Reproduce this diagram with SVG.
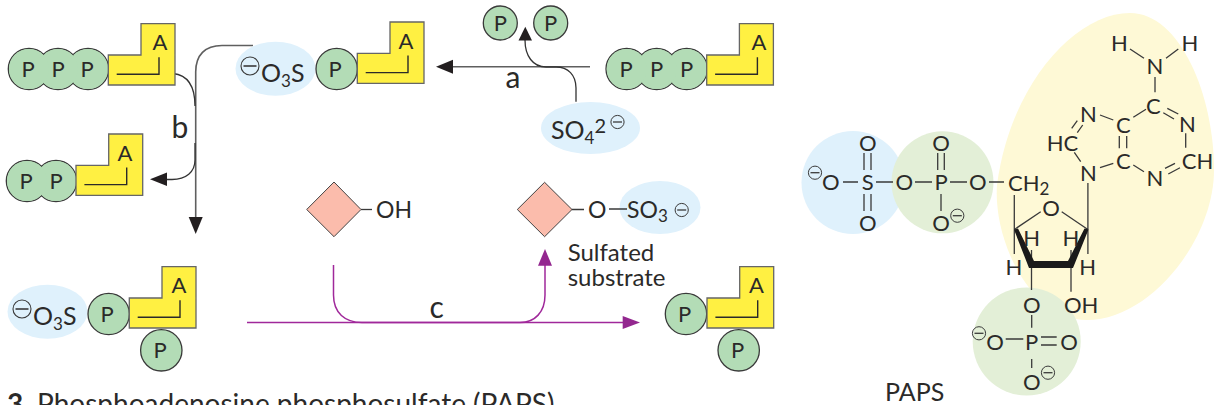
<svg xmlns="http://www.w3.org/2000/svg" width="1214" height="405" viewBox="0 0 1214 405">
<style>
text{font-family:"Lato","Open Sans","Liberation Sans",sans-serif;fill:#2b2a29;font-size:22px}
.m{text-anchor:middle}
.p{fill:#b3dcb6;stroke:#3a3a3a;stroke-width:1.3}
.pf{fill:#b3dcb6}
.b{fill:#dff1fc}
.g{fill:#e3efd7}
.bond{fill:none;stroke:#3a3a3a;stroke-width:1.3}
.line{fill:none;stroke:#5f5f5f;stroke-width:1.6}
.thin{fill:none;stroke:#333;stroke-width:1.3}
.mag{fill:none;stroke:#a0289a;stroke-width:1.5}
.head{fill:#231f20}
.mhead{fill:#93278f}
.dia{fill:#fbbcac;stroke:#444;stroke-width:1}
.sub{font-size:17px}
.big{font-size:25px}
.lbl{font-size:30px}
.cap{font-size:28px}
</style>
<defs>
<g id="amp">
<path d="M0 31.3H32.7V0H66.7V61.3H0Z" fill="#fff042" stroke="#666" stroke-width="1.3"/>
<path d="M8.4 50.6H50.7V33.5" fill="none" stroke="#2b2a29" stroke-width="1.4"/>
</g>
<g id="neg"><circle r="6.6" fill="none" stroke="#3a3a3a" stroke-width="1"/><path d="M-4.5 0H4.500" stroke="#3a3a3a" stroke-width="1.3"/></g>
<g id="negb"><circle r="9" fill="none" stroke="#3a3a3a" stroke-width="1.1"/><path d="M-6.500 0H6.500" stroke="#3a3a3a" stroke-width="1.6"/></g>
</defs>

<g id="adenosine-highlight">
<path d="M1130 13C1075 13 1010 85 997 185C993 240 1030 320 1087 320C1150 320 1214 240 1214 170C1214 95 1180 13 1130 13Z" fill="#fef9d6"/>
</g>

<g id="so4-blob"><ellipse class="b" cx="590.500" cy="128" rx="49.500" ry="26"/></g>

<g id="connectors">
<path class="line" d="M590 66.700H450"/>
<path class="head" d="M436 66.700L453 59.700V73.700Z"/>
<path class="thin" d="M576 101.700V88C576 75 568 67 556 67H546C533 67 525 56 525 40"/>
<path class="head" d="M525.300 26.700L518.500 40.500H532Z"/>
<path class="line" d="M253 45.500H222C205 45.500 195.700 55 195.700 72V220"/>
<path class="head" d="M195.700 234L188.700 217H202.700Z"/>
<path class="thin" d="M173 73.500C187 75 195 85 195 106M195 143V160C195 172 186 179.500 172 179.500H165"/>
<path class="head" d="M150 179.300L167 172.500V186Z"/>
<path class="mag" d="M247 322.500H625"/>
<path class="mhead" d="M640 322.500L622.700 316V329Z"/>
<path class="mag" d="M333.500 265V295C333.500 313 345 322.500 362 322.500H520C535 322.500 545 312 545 295V264"/>
<path class="mhead" d="M545 249L538 265.700H552Z"/>
</g>

<g id="atp-top-left">
<circle class="p" cx="88" cy="69" r="20.700"/><circle class="p" cx="58" cy="69" r="20.700"/><circle class="p" cx="29" cy="69" r="20.700"/>
<circle class="pf" cx="88" cy="69" r="20"/><circle class="pf" cx="58" cy="69" r="20"/><circle class="pf" cx="29" cy="69" r="20"/>
<use href="#amp" x="108.300" y="23.700"/>
<text class="m" x="28" y="77">P</text><text class="m" x="58" y="77">P</text><text class="m" x="87" y="77">P</text>
<text class="m" x="160" y="50">A</text>
</g>

<g id="adp-left">
<circle class="p" cx="56" cy="181" r="20.700"/><circle class="p" cx="27" cy="181" r="20.700"/>
<circle class="pf" cx="56" cy="181" r="20"/><circle class="pf" cx="27" cy="181" r="20"/>
<use href="#amp" x="76" y="134"/>
<text class="m" x="26" y="189">P</text><text class="m" x="56" y="189">P</text>
<text class="m" x="125" y="160.500">A</text>
</g>

<g id="aps-top">
<ellipse class="b" cx="275.500" cy="68.700" rx="40" ry="27"/>
<use href="#negb" x="250" y="66"/>
<text class="big" x="261" y="81.500">O<tspan class="sub" dy="5">3</tspan><tspan dy="-5">S</tspan></text>
<circle class="p" cx="336.700" cy="69" r="20.700"/>
<use href="#amp" x="357.300" y="22"/>
<text class="m" x="335" y="77">P</text><text class="m" x="406" y="49">A</text>
</g>

<g id="atp-top-right">
<circle class="p" cx="686.700" cy="69" r="20.700"/><circle class="p" cx="656.700" cy="69" r="20.700"/><circle class="p" cx="626.700" cy="69" r="20.700"/>
<circle class="pf" cx="686.700" cy="69" r="20"/><circle class="pf" cx="656.700" cy="69" r="20"/><circle class="pf" cx="626.700" cy="69" r="20"/>
<use href="#amp" x="706.700" y="23.700"/>
<text class="m" x="626" y="77">P</text><text class="m" x="656.700" y="77">P</text><text class="m" x="686.500" y="77">P</text>
<text class="m" x="759" y="50">A</text>
</g>

<g id="pp-released">
<circle class="p" cx="500.300" cy="23" r="17"/><circle class="p" cx="550.700" cy="23" r="17"/>
<text class="m" x="500.300" y="31">P</text><text class="m" x="550.700" y="31">P</text>
</g>

<g id="so4">
<text class="big" x="551" y="139">SO<tspan class="sub" dy="5">4</tspan><tspan class="sub" dy="-11" style="font-size:20px">2</tspan></text>
<use href="#neg" x="617.500" y="122"/>
</g>

<g id="labels">
<text class="m lbl" x="513" y="88">a</text>
<text class="m lbl" x="180" y="138">b</text>
<text class="m lbl" x="436.700" y="317.700">c</text>
<text style="font-size:24px" x="567.700" y="260.700">Sulfated<tspan x="567.700" dy="25.300">substrate</tspan></text>
<text class="cap" x="7" y="414" style="font-weight:700">3</text>
<text class="cap" x="37" y="414">Phosphoadenosine phosphosulfate (PAPS)</text>
<text class="big" x="885" y="401">PAPS</text>
</g>

<g id="substrate">
<path class="dia" d="M306.700 209.500L334 182L361 209.500L334 236.700Z"/>
<path class="bond" d="M361 209.500H372"/>
<text x="376" y="218" style="font-size:23px">OH</text>
</g>

<g id="sulfated-substrate">
<ellipse class="b" cx="660" cy="207.500" rx="40.500" ry="26.500"/>
<path class="dia" d="M517.300 209.500L544.600 182.300L572 209.500L544.600 236.700Z"/>
<path class="bond" d="M572 209.500H584M609 209H627"/>
<text x="588" y="218" style="font-size:23px">O</text>
<text x="627" y="218" style="font-size:23px">SO<tspan class="sub" dy="4">3</tspan></text>
<use href="#neg" x="681.700" y="210"/>
</g>

<g id="paps-bottom-left">
<ellipse class="b" cx="47.500" cy="311.700" rx="40" ry="27"/>
<use href="#negb" x="22" y="309"/>
<text class="big" x="33" y="325">O<tspan class="sub" dy="5">3</tspan><tspan dy="-5">S</tspan></text>
<circle class="p" cx="108.700" cy="314" r="20.700"/>
<use href="#amp" x="129.300" y="266.700"/>
<circle class="p" cx="161.300" cy="350.300" r="20.700"/>
<text class="m" x="107" y="322">P</text><text class="m" x="160" y="358">P</text><text class="m" x="179" y="293">A</text>
</g>

<g id="pap-bottom-right">
<circle class="p" cx="686" cy="314" r="20.700"/>
<use href="#amp" x="707" y="266.700"/>
<circle class="p" cx="738.700" cy="350.300" r="20.700"/>
<text class="m" x="684.500" y="322">P</text><text class="m" x="737.500" y="358">P</text><text class="m" x="756.500" y="293">A</text>
</g>

<g id="paps-structure">
<circle class="b" cx="853" cy="182.500" r="51.500"/>
<circle class="g" cx="942.500" cy="182.300" r="51"/>
<circle class="g" cx="1026.700" cy="341.500" r="54"/>
<path class="bond" d="M843 182H858M876 182H893M915 182H932M950 182H967M989 182H1004M864 153V170M871 153V170M864 194V211M871 194V211M937.700 153V170M944.300 153V170M941 194V211"/>
<use href="#neg" x="815" y="172.700"/><use href="#neg" x="957.300" y="215.700"/>
<text class="m" x="830.700" y="190">O</text><text class="m" x="867.700" y="190">S</text><text class="m" x="904.300" y="190">O</text><text class="m" x="941" y="190">P</text><text class="m" x="977.700" y="190">O</text>
<text class="m" x="867.700" y="150.500">O</text><text class="m" x="867.700" y="231">O</text><text class="m" x="941" y="150.500">O</text><text class="m" x="941" y="231">O</text>
<text x="1008" y="191">CH<tspan class="sub" dy="4">2</tspan></text>
<path class="bond" d="M1014.300 195V254M1087.900 183V254M1014.300 229.500L1040.700 211.700M1061.700 211.700L1087.900 229.500M1031.500 250V290M1071 250V291.700"/>
<path d="M1014 229.500L1018 228.500L1034 261H1068L1084.500 228.500L1088.500 229.500L1073 268H1029Z" fill="#1a1a1a"/>
<text class="m" x="1051" y="215.500">O</text>
<text class="m" x="1014" y="274.500">H</text><text class="m" x="1087.700" y="274.500">H</text><text class="m" x="1031.700" y="245.500">H</text><text class="m" x="1071" y="245.500">H</text>
<text class="m" x="1031.700" y="313">O</text><text x="1064" y="313">OH</text>
<path class="bond" d="M1031.700 315V327.700M1005.700 339H1023.300M1041 337H1056.700M1041 345H1056.700M1031.700 359V368"/>
<text class="m" x="1031.700" y="349.500">P</text><text class="m" x="995" y="349.500">O</text><text class="m" x="1069" y="349.500">O</text><text class="m" x="1031.700" y="389.500">O</text>
<use href="#neg" x="979" y="333.300"/><use href="#neg" x="1048" y="372.700"/>
<text class="m" x="1119.300" y="51">H</text><text class="m" x="1190" y="51">H</text><text class="m" x="1155" y="73.500">N</text>
<text class="m" x="1153.300" y="114">C</text><text class="m" x="1187.300" y="132">N</text><text x="1181.700" y="169">CH</text><text class="m" x="1155" y="186">N</text>
<text class="m" x="1123.300" y="169">C</text><text class="m" x="1123.300" y="133">C</text><text class="m" x="1088.300" y="122">N</text><text x="1046.700" y="151">HC</text><text class="m" x="1088.300" y="180.500">N</text>
<path class="bond" d="M1130 49L1144 58.300M1178.300 49L1166 58.300M1155 77V92.300M1167.300 108.300L1178.300 114M1163.300 112.700L1174 119M1185.700 133.300V147.700M1165 168.300L1175 163.300M1168.300 174L1180 167.700M1133.300 165L1144 171.700M1119.300 136V148.300M1126.700 136V148.300M1133.300 117.300L1146 109.300M1100 115L1113.300 120M1100 167.700L1113.300 163.300M1071.700 128.300L1077.300 120.700M1077.300 132.700L1082.700 125M1074.300 152.300L1080.700 161.700"/>
</g>
</svg>
